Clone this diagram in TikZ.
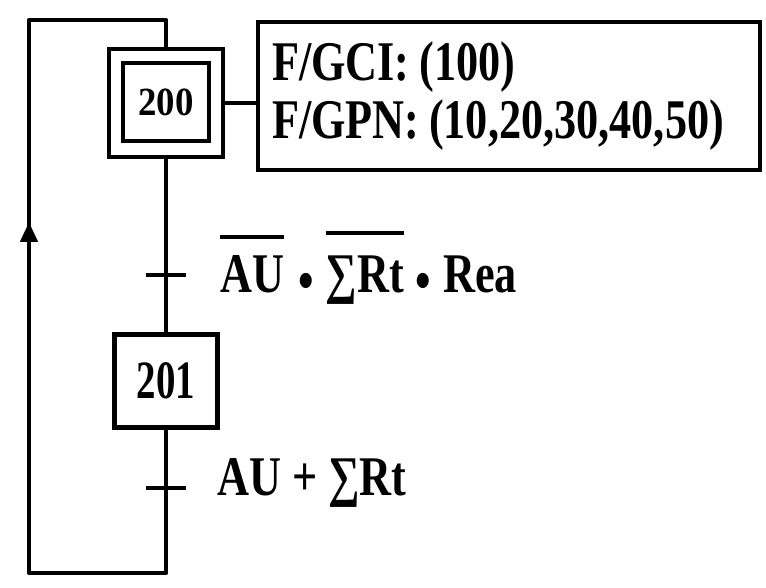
\documentclass[tikz,border=0pt]{standalone}
\usepackage{fontspec}
\usepackage{graphicx}
\usetikzlibrary{arrows.meta,calc}
\setmainfont{Liberation Serif}
\newfontfamily\lblfont[FakeStretch=0.79]{Liberation Serif}
\newfontfamily\stepfontA[FakeStretch=0.92]{Liberation Serif}
\newfontfamily\stepfontB[FakeStretch=0.72]{Liberation Serif}
\newcommand\ovl[2]{\leavevmode\vbox{\hrule height 4pt\kern #1\hbox{#2}}}
\newcommand\bdot{\raisebox{-7pt}{•}}
\newcommand\tightcolon{:\hspace{-9pt} }
\frenchspacing
\tikzset{
  ln/.style={line width=4.5pt, line cap=round, line join=round},
  stepbox/.style={draw, line width=4.5pt, inner sep=0pt, rectangle},
  actbox/.style={draw, line width=4.5pt, rectangle, inner xsep=14pt, inner ysep=0pt,
    minimum width=502pt, minimum height=148pt, text width=474pt, align=left,
    font=\lblfont\bfseries\fontsize{56}{58}\selectfont},
  lbl/.style={inner sep=0pt, anchor=base west, font=\lblfont\bfseries\fontsize{56}{58}\selectfont},
  tick/.style={line width=4.5pt}
}
\begin{document}
\begin{tikzpicture}[x=1pt,y=-1pt]
\useasboundingbox (0,0) rectangle (766,588);
% steps
\node[stepbox, minimum width=86pt, minimum height=78pt,
      font=\stepfontA\bfseries\fontsize{40}{40}\selectfont] (s200) at (166,102) {200};
\node[stepbox, minimum width=114pt, minimum height=108pt] (s200o) at (166,103) {};
\node[stepbox, minimum width=103pt, minimum height=93pt,
      font=\stepfontB\bfseries\fontsize{54}{54}\selectfont] (s201) at (166,381) {201};
% action
\node[actbox] (act) at (509,96) {F/GCI\tightcolon(100)\\F/GPN\tightcolon(10,20,30,40,50)};
\draw[ln] (s200o.east) -- (act.west |- s200o.east);
% transitions
\coordinate (t1) at (166,275);
\coordinate (t2) at (166,488);
\draw[ln] (s200o.south) -- (s201.north);
\draw[tick] ($(t1)+(-20,0)$) -- ($(t1)+(20,0)$);
\node[lbl] (l1) at (220,292) {\ovl{16pt}{AU}\hspace{14pt}\bdot\hspace{12pt}\ovl{20pt}{∑Rt}\hspace{12pt}\bdot\hspace{12pt}Rea};
% loop
\coordinate (c1) at (166,573);
\coordinate (c2) at (29,573);
\coordinate (c3) at (29,20);
\coordinate (c4) at (166,20);
\draw[ln] (s201.south) -- (c1) -- (c2) -- (c3) -- (c4) -- (s200o.north);
\draw[tick] ($(t2)+(-20,0)$) -- ($(t2)+(20,0)$);
\node[lbl] (l2) at (217,495) {AU + ∑Rt};
\coordinate (a1) at (29,250);
\coordinate (a2) at (29,222);
\draw[line width=4.5pt, -{Triangle[length=20pt,width=17pt]}] (a1) -- (a2);
\end{tikzpicture}
\end{document}
